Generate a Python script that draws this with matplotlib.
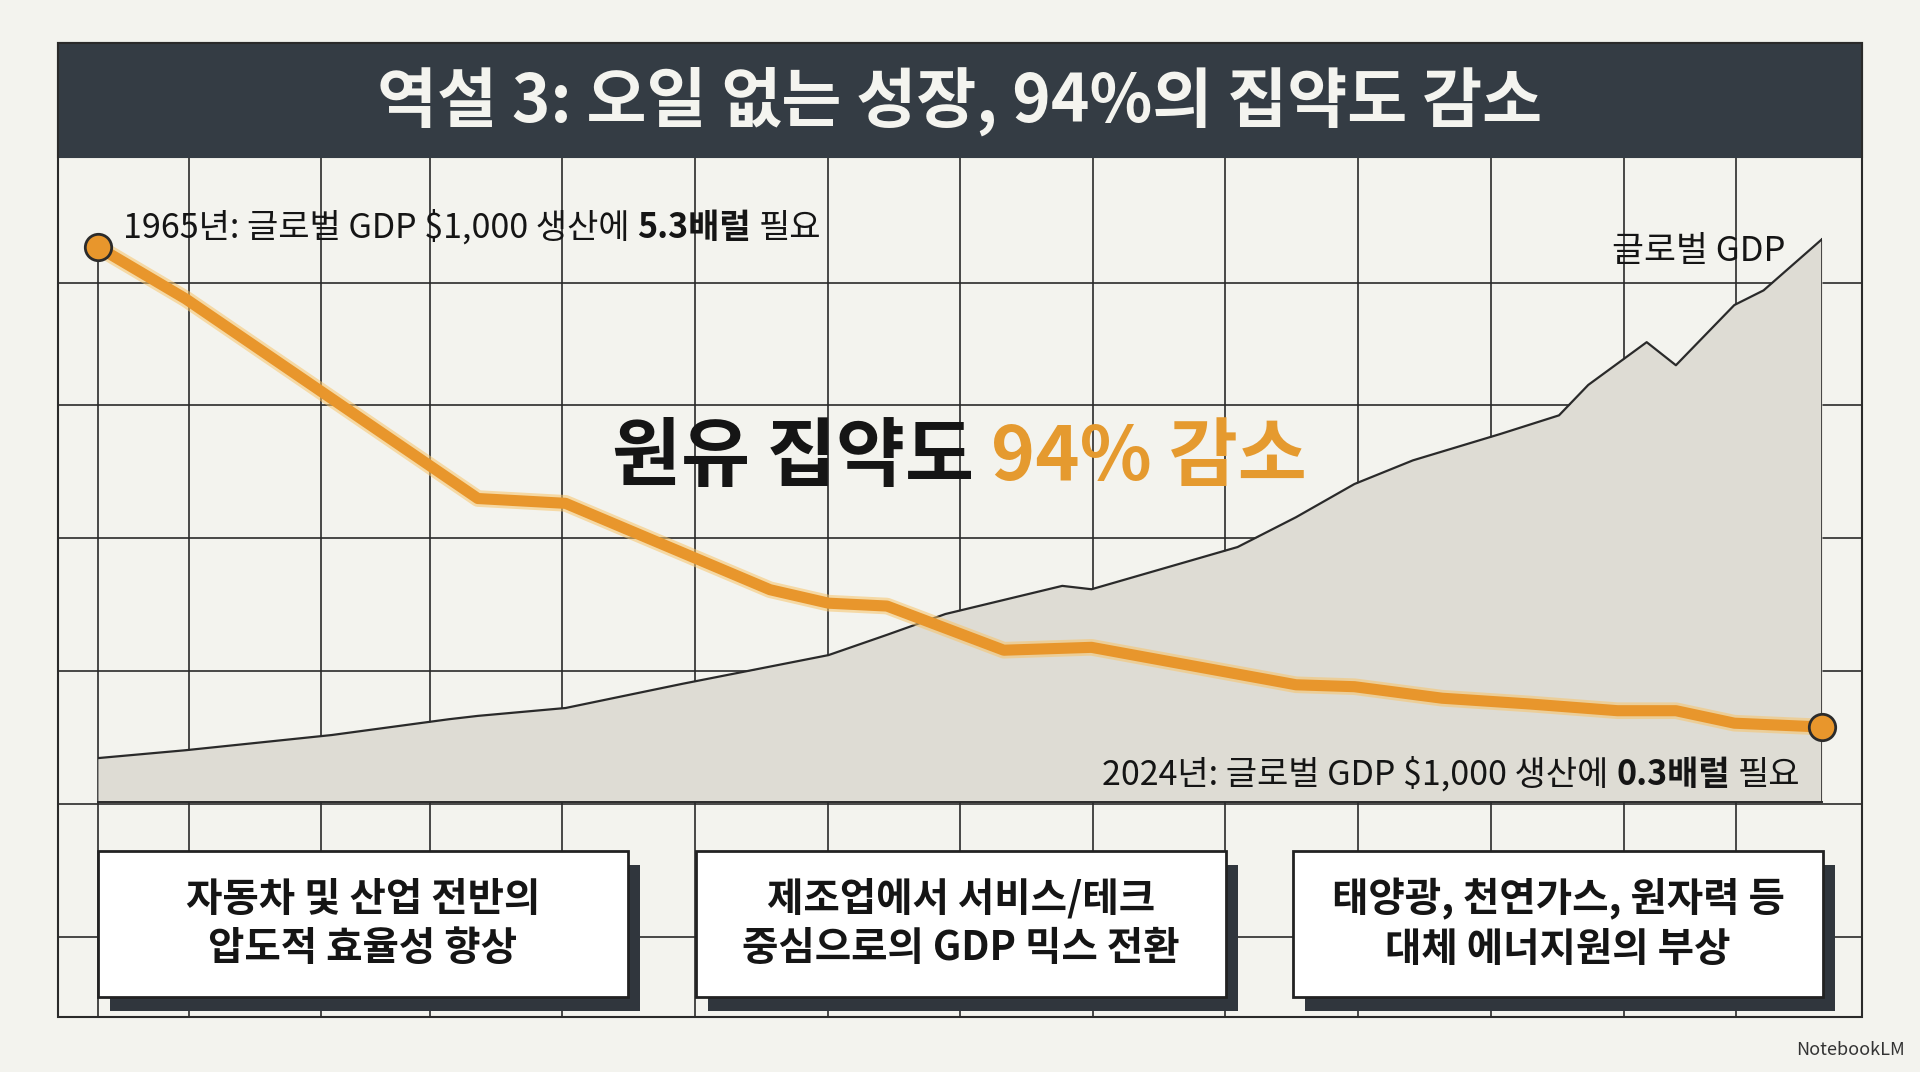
import matplotlib
matplotlib.use('Agg')
import matplotlib.pyplot as plt
from matplotlib.patches import Rectangle

plt.rcParams['font.family'] = ['Noto Sans CJK KR', 'DejaVu Sans']

# ---------------- data ----------------
intensity_years = [1965, 1968, 1978, 1981, 1988, 1990, 1992, 1996, 1999,
                   2006, 2008, 2011, 2014, 2017, 2019, 2021, 2024]
intensity_bbl = [5.3, 4.76, 2.68, 2.63, 1.73, 1.59, 1.56, 1.10, 1.13,
                 0.74, 0.72, 0.60, 0.54, 0.47, 0.47, 0.34, 0.3]

gdp_years = [1965, 1968, 1973, 1977, 1978, 1981, 1985, 1990, 1992, 1994, 1998, 1999,
             2004, 2006, 2008, 2010, 2013, 2015, 2016, 2018, 2019, 2021, 2022, 2024]
gdp_index = [7.8, 9.2, 11.9, 14.7, 15.3, 16.7, 21.0, 26.1, 29.7, 33.4, 38.4, 37.8,
             45.3, 50.6, 56.5, 60.7, 65.4, 68.7, 74.1, 81.7, 77.6, 88.3, 90.9, 100.0]

title = "역설 3: 오일 없는 성장, 94%의 집약도 감소"
start_label = [("1965년: 글로벌 GDP $1,000 생산에", "normal"), ("5.3배럴", "bold"), ("필요", "normal")]
end_label = [("2024년: 글로벌 GDP $1,000 생산에", "normal"), ("0.3배럴", "bold"), ("필요", "normal")]
gdp_label = "글로벌 GDP"
headline = [("원유 집약도", "black"), ("94% 감소", "orange")]
box_texts = ["자동차 및 산업 전반의\n압도적 효율성 향상",
             "제조업에서 서비스/테크\n중심으로의 GDP 믹스 전환",
             "태양광, 천연가스, 원자력 등\n대체 에너지원의 부상"]
watermark = "NotebookLM"

# ---------------- style ----------------
BG = '#f3f3ee'
DARK = '#343c44'
INK = '#151515'
ORANGE = '#e8962c'
GLOW = '#f7c46a'
FILL = '#dedcd4'
W, H = 1920, 1072

fig = plt.figure(figsize=(W / 100, H / 100), dpi=100, facecolor=BG)
bg = fig.add_axes([0, 0, 1, 1], zorder=0)
bg.set_xlim(0, W)
bg.set_ylim(H, 0)
bg.axis('off')
bg.set_facecolor(BG)

# frame and title bar
FL, FR, FT, FB = 58, 1862, 43, 1017
TB = 157
bg.add_patch(Rectangle((FL, FT), FR - FL, TB - FT, facecolor=DARK, edgecolor=DARK, lw=1.5, zorder=2))
bg.add_patch(Rectangle((FL, FT), FR - FL, FB - FT, facecolor='none', edgecolor='#2a2a2a', lw=1.5, zorder=2))

# grid
vlines = [189, 321, 430, 562, 695, 828, 960, 1093, 1225, 1358, 1491, 1624, 1736]
hlines = [283, 405, 538, 671, 804, 937]
for x in vlines:
    bg.plot([x, x], [TB, FB], color='#2a2a2a', lw=1.2, zorder=1)
for y in hlines:
    bg.plot([FL, FR], [y, y], color='#2a2a2a', lw=1.2, zorder=1)
bg.plot([98, 98], [247, FB], color='#2a2a2a', lw=1.2, zorder=1)

bg.text(960, 101, title, ha='center', va='center', color='#f4f4ef',
        fontsize=47, fontweight='bold', zorder=3)

# ---------------- data axes ----------------
PL, PR, PT, PB = 98, 1822, 157, 802
ax = fig.add_axes([PL / W, (H - PB) / H, (PR - PL) / W, (PB - PT) / H], zorder=2)
ax.patch.set_alpha(0)
ax.axis('off')
ax.set_xlim(1965, 2024)
ax.set_ylim(0, 114.6)
ax.fill_between(gdp_years, gdp_index, 0, color=FILL, lw=0, zorder=1)
ax.plot(gdp_years, gdp_index, color='#2a2a2a', lw=1.6, zorder=2)
ax.plot([gdp_years[-1], gdp_years[-1]], [0, gdp_index[-1]], color='#2a2a2a', lw=1.2, zorder=2)
ax.plot([gdp_years[0], gdp_years[-1]], [0, 0], color='#2a2a2a', lw=1.4, zorder=2, clip_on=False)

ax2 = fig.add_axes(ax.get_position(), zorder=3)
ax2.patch.set_alpha(0)
ax2.axis('off')
ax2.set_xlim(1965, 2024)
ax2.set_ylim(-0.481, 6.2375)
ax2.plot(intensity_years, intensity_bbl, color=GLOW, lw=12, alpha=0.55,
         solid_joinstyle='round', solid_capstyle='round', zorder=1)
ax2.plot(intensity_years, intensity_bbl, color=ORANGE, lw=8,
         solid_joinstyle='round', solid_capstyle='round', zorder=2)
ax2.plot([intensity_years[0], intensity_years[-1]], [intensity_bbl[0], intensity_bbl[-1]],
         'o', ms=19, mfc=ORANGE, mec='#2b2b2b', mew=2, zorder=3, clip_on=False)

# ---------------- overlay text ----------------
top = fig.add_axes([0, 0, 1, 1], zorder=5)
top.set_xlim(0, W)
top.set_ylim(H, 0)
top.axis('off')
top.patch.set_alpha(0)

renderer = fig.canvas.get_renderer()


def to_px(axis, x, y):
    dx, dy = axis.transData.transform((x, y))
    return dx, H - dy


def text_width(s, size, weight):
    t = top.text(0, 0, s, fontsize=size, fontweight=weight)
    w = t.get_window_extent(renderer).width
    t.remove()
    return w


def rich(x, y, pieces, size, ha='left'):
    sp = text_width("가 가", size, 'normal') - text_width("가가", size, 'normal')
    objs = []
    for s, weight, color in pieces:
        objs.append(top.text(0, y, s, fontsize=size, fontweight=weight, color=color,
                             ha='left', va='center_baseline'))
    widths = [t.get_window_extent(renderer).width for t in objs]
    total = sum(widths) + sp * (len(objs) - 1)
    cx = x if ha == 'left' else (x - total if ha == 'right' else x - total / 2)
    for t, w in zip(objs, widths):
        t.set_x(cx)
        cx += w + sp


x0, y0 = to_px(ax2, intensity_years[0], intensity_bbl[0])
rich(x0 + 25, y0 - 23, [(s, w, INK) for s, w in start_label], 24.5)
x1, y1 = to_px(ax2, intensity_years[-1], intensity_bbl[-1])
rich(x1 - 22, y1 + 44, [(s, w, INK) for s, w in end_label], 24.5, ha='right')
xg, yg = to_px(ax, gdp_years[-1], gdp_index[-1])
top.text(xg - 36, yg + 8, gdp_label, ha='right', va='center_baseline', fontsize=25, color=INK)

colors = {'black': INK, 'orange': '#e59a2f'}
rich(612, 450, [(s, 'bold', colors[c]) for s, c in headline], 54)

# boxes
box_lefts = [98, 696, 1293]
BW, BT, BBt = 530, 851, 997
for bx, txt in zip(box_lefts, box_texts):
    top.add_patch(Rectangle((bx + 12, BT + 14), BW, BBt - BT, facecolor='#30363d', edgecolor='none', zorder=1))
    top.add_patch(Rectangle((bx, BT), BW, BBt - BT, facecolor='white', edgecolor='#222222', lw=2, zorder=2))
    top.text(bx + BW / 2, (BT + BBt) / 2, txt, ha='center', va='center', fontsize=28.5,
             fontweight='bold', color=INK, linespacing=1.25, zorder=3)

top.text(1905, 1050, watermark, ha='right', va='center', fontsize=13, fontweight='medium', color='#333333')

fig.savefig('out.png', dpi=100, facecolor=BG)
